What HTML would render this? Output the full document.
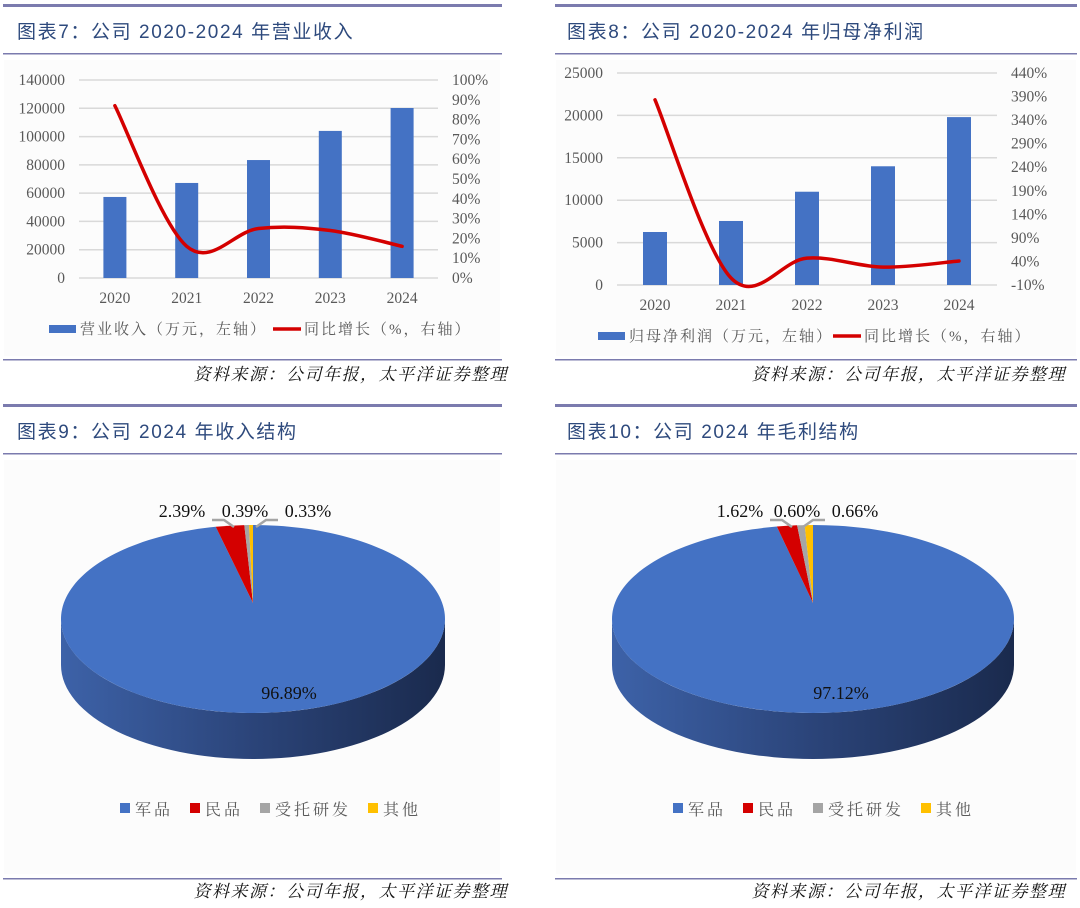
<!DOCTYPE html>
<html><head><meta charset="utf-8">
<style>
body{margin:0;background:#fff;width:1080px;height:908px;overflow:hidden;font-family:"Liberation Serif","Noto Serif CJK SC",serif;}
svg{position:absolute;left:0;top:0}
</style></head>
<body>
<svg id="s" width="1080" height="908" viewBox="0 0 1080 908">
<defs>
<linearGradient id="side" x1="0" x2="1" y1="0" y2="0">
<stop offset="0" stop-color="#3d62a8"/><stop offset="0.5" stop-color="#2b4479"/><stop offset="1" stop-color="#1a2a4d"/>
</linearGradient>
</defs>
<g id="frames" font-family="'Liberation Sans','Noto Sans CJK SC',sans-serif">
<rect x="4" y="60" width="496" height="296" fill="#fcfcfc"/>
<rect x="556" y="60" width="520" height="296" fill="#fcfcfc"/>
<rect x="4" y="460" width="496" height="414" fill="#fcfcfc"/>
<rect x="556" y="460" width="520" height="414" fill="#fcfcfc"/>
<g fill="#7b7bae">
<rect x="3" y="4" width="499" height="3"/><rect x="3" y="53" width="499" height="1.5"/><rect x="3" y="359" width="499" height="1.5"/>
<rect x="555" y="4" width="522" height="3"/><rect x="555" y="53" width="522" height="1.5"/><rect x="555" y="359" width="522" height="1.5"/>
<rect x="3" y="404" width="499" height="3"/><rect x="3" y="453" width="499" height="1.5"/><rect x="3" y="878" width="499" height="1.5"/>
<rect x="555" y="404" width="522" height="3"/><rect x="555" y="453" width="522" height="1.5"/><rect x="555" y="878" width="522" height="1.5"/>
</g>
<g fill="#2e4a7d" font-size="19" letter-spacing="1.6">
<text x="17" y="38">图表7：公司 2020-2024 年营业收入</text>
<text x="567" y="38">图表8：公司 2020-2024 年归母净利润</text>
<text x="17" y="438">图表9：公司 2024 年收入结构</text>
<text x="567" y="438">图表10：公司 2024 年毛利结构</text>
</g>
<g fill="#111" font-size="17" font-style="italic" text-anchor="end" letter-spacing="1.5" font-family="'Liberation Serif','Noto Serif CJK SC',serif">
<text x="508" y="380">资料来源：公司年报，太平洋证券整理</text>
<text x="1066" y="380">资料来源：公司年报，太平洋证券整理</text>
<text x="508" y="897">资料来源：公司年报，太平洋证券整理</text>
<text x="1066" y="897">资料来源：公司年报，太平洋证券整理</text>
</g>
</g>
<g id="c7"></g><g id="c8"></g><g id="c9"></g><g id="c10"></g>
</svg>
<script>
const years=["2020","2021","2022","2023","2024"];
const revenue=[57300,67200,83400,104000,120200];
const revGrowth=[87,16,25,24,16];
const revLeftTicks=[0,20000,40000,60000,80000,100000,120000,140000];
const revRightTicks=[0,10,20,30,40,50,60,70,80,90,100];
const profit=[6250,7550,11000,14000,19800];
const profitGrowth=[383,5,47,28,41];
const profitLeftTicks=[0,5000,10000,15000,20000,25000];
const profitRightTicks=[-10,40,90,140,190,240,290,340,390,440];
const revStructLabels=["军品","民品","受托研发","其他"];
const revStructValues=[96.89,2.39,0.39,0.33];
const gpStructLabels=["军品","民品","受托研发","其他"];
const gpStructValues=[97.12,1.62,0.60,0.66];

const NS="http://www.w3.org/2000/svg";
function mk(p,tag,a,txt){const e=document.createElementNS(NS,tag);for(const k in a)e.setAttribute(k,a[k]);if(txt!==undefined)e.textContent=txt;p.appendChild(e);return e;}
function smooth(pts){let d="M"+pts[0][0]+","+pts[0][1];for(let i=0;i<pts.length-1;i++){const p0=pts[i-1]||pts[i],p1=pts[i],p2=pts[i+1],p3=pts[i+2]||p2;const t=0.34;
d+=" C"+(p1[0]+(p2[0]-p0[0])*t/2)+","+(p1[1]+(p2[1]-p0[1])*t/2)+" "+(p2[0]-(p3[0]-p1[0])*t/2)+","+(p2[1]-(p3[1]-p1[1])*t/2)+" "+p2[0]+","+p2[1];}return d;}

function combo(id,cfg){
  const g=document.getElementById(id);
  const yL=v=>cfg.y0-(v-cfg.lMin)/(cfg.lMax-cfg.lMin)*(cfg.y0-cfg.y1);
  const yR=v=>cfg.y0-(v-cfg.rMin)/(cfg.rMax-cfg.rMin)*(cfg.y0-cfg.y1);
  const step=(cfg.x1-cfg.x0)/years.length;
  const xC=i=>cfg.x0+step*(i+0.5);
  cfg.lt.forEach(t=>{
    const l=mk(g,"line",{x1:cfg.x0,x2:cfg.x1,y1:yL(t),y2:yL(t),stroke:"#d9d9d9","stroke-width":1.5});
    
    
    const tx=mk(g,"text",{x:cfg.x0-14,y:yL(t)+5,"text-anchor":"end","font-size":15.5,fill:"#595959"},t);
    
    
  });
  cfg.rt.forEach(t=>{
    const tx=mk(g,"text",{x:cfg.x1+14,y:yR(t)+5,"font-size":15.5,fill:"#595959"},t+"%");
    
    
  });
  cfg.bars.forEach((v,i)=>{
    const r=mk(g,"rect",{x:xC(i)-cfg.bw/2,y:yL(v),width:cfg.bw,height:yL(cfg.lMin)-yL(v),fill:"#4472c4"});
    
    
    const tx=mk(g,"text",{x:xC(i),y:cfg.y0+25,"text-anchor":"middle","font-size":15.5,fill:"#595959"},years[i]);
    
    
  });
  const pts=cfg.line.map((v,i)=>[xC(i),yR(v)]);
  const p=mk(g,"path",{d:smooth(pts),fill:"none",stroke:"#d40000","stroke-width":3.5,"stroke-linecap":"round"});
  
  
  const lg=mk(g,"g",{"font-family":"'Liberation Serif','Noto Serif CJK SC',serif","font-size":15,fill:"#595959","letter-spacing":"2"});
  
  
  mk(lg,"rect",{x:cfg.lx,y:cfg.ly-9,width:27,height:8,fill:"#4472c4"});
  mk(lg,"text",{x:cfg.lx+31,y:cfg.ly},cfg.l1);
  mk(lg,"line",{x1:cfg.lx2,x2:cfg.lx2+28,y1:cfg.ly-5,y2:cfg.ly-5,stroke:"#d40000","stroke-width":3.5});
  mk(lg,"text",{x:cfg.lx2+31,y:cfg.ly},cfg.l2);
}
combo("c7",{x0:79,x1:438,y0:278,y1:80,lMin:0,lMax:140000,rMin:0,rMax:100,lt:revLeftTicks,rt:revRightTicks,bars:revenue,line:revGrowth,bw:23,lx:49,lx2:273,ly:334,l1:"营业收入（万元，左轴）",l2:"同比增长（%，右轴）"});
combo("c8",{x0:617,x1:997,y0:285,y1:73,lMin:0,lMax:25000,rMin:-10,rMax:440,lt:profitLeftTicks,rt:profitRightTicks,bars:profit,line:profitGrowth,bw:24,lx:598,lx2:833,ly:341,l1:"归母净利润（万元，左轴）",l2:"同比增长（%，右轴）"});

function pie(id,cfg,labels,vals){
  const g=document.getElementById(id);
  const cols=["#4472c4","#d40000","#a5a5a5","#ffc000"];
  const {cx,cy,rx,ry,dep,ay}=cfg;
  const ex=a=>cx+rx*Math.sin(a), ey=a=>cy-ry*Math.cos(a);
  const side=mk(g,"path",{d:`M${cx-rx},${cy} A${rx},${ry} 0 0 0 ${cx+rx},${cy} L${cx+rx},${cy+dep} A${rx},${ry} 0 0 1 ${cx-rx},${cy+dep} Z`,fill:"url(#side)"});
  
  
  const tot=vals.reduce((a,b)=>a+b,0);let a0=0;
  vals.forEach((v,i)=>{
    const a1=a0+v/tot*2*Math.PI;const large=(a1-a0)>Math.PI?1:0;
    const s=mk(g,"path",{d:`M${cx},${ay} L${ex(a0)},${ey(a0)} A${rx},${ry} 0 ${large} 1 ${ex(a1)},${ey(a1)} Z`,fill:cols[i]});
    
    
    a0=a1;
  });
  const lb=mk(g,"g",{"font-size":18,fill:"#111"});
  
  
  mk(lb,"text",{x:cfg.bigX,y:cy+80,"text-anchor":"middle"},vals[0].toFixed(2)+"%");
  cfg.lab.forEach((x,i)=>{mk(lb,"text",{x:x,y:cy-102,"text-anchor":"middle"},vals[i+1].toFixed(2)+"%");});
  mk(g,"path",{d:`M${cfg.lab[0]+30},${cy-99} h12 l10,7 M${cfg.lab[2]-30},${cy-99} h-12 l-10,7`,stroke:"#a5a5a5","stroke-width":2.5,fill:"none"});
  const lg=mk(g,"g",{"font-size":16,fill:"#595959","font-family":"'Liberation Serif','Noto Serif CJK SC',serif"});
  
  
  let x=cfg.legX;
  labels.forEach((l,i)=>{mk(lg,"rect",{x:x,y:cy+184,width:10,height:10,fill:cols[i]});mk(lg,"text",{x:x+15,y:cy+196,"letter-spacing":"3"},l);x+=15+l.length*19+17;});
}
pie("c9",{cx:253,cy:619,rx:192,ry:94,dep:46,ay:603,bigX:289,lab:[182,245,308],legX:120},revStructLabels,revStructValues);
pie("c10",{cx:813,cy:619,rx:201,ry:94,dep:46,ay:603,bigX:841,lab:[740,797,855],legX:673},gpStructLabels,gpStructValues);
</script>
</body></html>
